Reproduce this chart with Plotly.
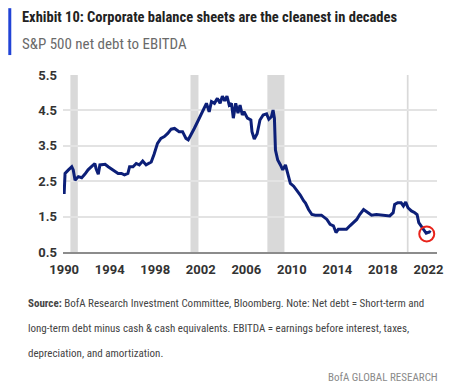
import plotly.graph_objects as go

years = [1990.0, 1990.08, 1990.38, 1990.67, 1990.8, 1990.96, 1991.25, 1991.54, 1991.83, 1992.1,
         1992.4, 1992.7, 1992.8, 1993.0, 1993.14, 1993.6, 1993.87, 1994.3, 1994.74, 1995.03,
         1995.3, 1995.6, 1995.75, 1996.05, 1996.33, 1996.6, 1996.9, 1997.2, 1997.65, 1997.9,
         1998.2, 1998.5, 1998.8, 1999.1, 1999.4, 1999.7, 2000.1, 2000.4, 2000.7, 2000.9,
         2001.14, 2001.43, 2001.72, 2002.0, 2002.3, 2002.5, 2002.74, 2002.94, 2003.2, 2003.46,
         2003.7, 2003.9, 2004.1, 2004.3, 2004.5, 2004.7, 2004.86, 2005.07, 2005.27, 2005.45,
         2005.65, 2005.8, 2006.1, 2006.4, 2006.5, 2006.7, 2006.95, 2007.2, 2007.48, 2007.78,
         2007.98, 2008.2, 2008.35, 2008.47, 2008.56, 2008.76, 2009.0, 2009.2, 2009.44, 2009.63,
         2009.87, 2010.16, 2010.45, 2010.74, 2011.03, 2011.2, 2011.47, 2011.76, 2012.06, 2012.6,
         2013.08, 2013.36, 2013.65, 2013.88, 2014.08, 2014.8, 2015.1, 2015.4, 2015.7, 2015.96,
         2016.3, 2016.7, 2017.0, 2017.43, 2018.0, 2018.6, 2018.9, 2019.03, 2019.3, 2019.6,
         2019.8, 2020.0, 2020.2, 2020.5, 2020.8, 2021.0, 2021.15, 2021.35, 2021.56, 2021.8,
         2022.1, 2022.2]
net_debt_ebitda = [2.14, 2.72, 2.82, 2.91, 2.82, 2.53, 2.63, 2.6, 2.7, 2.82,
                   2.91, 3.0, 2.86, 2.7, 2.96, 2.98, 2.91, 2.82, 2.72, 2.72,
                   2.68, 2.72, 2.91, 2.91, 3.0, 2.96, 3.07, 2.96, 3.04, 3.26,
                   3.57, 3.71, 3.76, 3.85, 3.97, 3.99, 3.9, 3.9, 3.71, 3.67,
                   3.8, 3.99, 4.18, 4.37, 4.56, 4.7, 4.46, 4.75, 4.7, 4.84,
                   4.7, 4.9, 4.77, 4.9, 4.65, 4.7, 4.28, 4.7, 4.42, 4.65,
                   4.37, 4.46, 4.28, 4.23, 3.9, 3.69, 3.84, 4.23, 4.37, 4.4,
                   4.25, 4.32, 4.51, 4.28, 3.38, 3.1, 2.96, 2.82, 2.96, 2.72,
                   2.44, 2.36, 2.25, 2.11, 1.95, 1.88, 1.7, 1.56, 1.54, 1.54,
                   1.42, 1.28, 1.24, 1.05, 1.14, 1.14, 1.24, 1.33, 1.42, 1.56,
                   1.7, 1.61, 1.54, 1.56, 1.54, 1.52, 1.61, 1.84, 1.89, 1.89,
                   1.8, 1.91, 1.75, 1.66, 1.61, 1.56, 1.33, 1.24, 1.14, 1.03,
                   1.07, 1.05]

recession_start = [1990.55, 2001.1, 2007.85, 2020.1]
recession_end = [1991.2, 2001.8, 2009.35, 2020.25]

highlight_year = [2021.85]
highlight_value = [1.01]

x_ticks = [1990, 1994, 1998, 2002, 2006, 2010, 2014, 2018, 2022]
y_ticks = [0.5, 1.5, 2.5, 3.5, 4.5, 5.5]

title = "Exhibit 10: Corporate balance sheets are the cleanest in decades"
subtitle = "S&P 500 net debt to EBITDA"
footer_lines = [
    "<b>Source:</b> BofA Research Investment Committee, Bloomberg. Note: Net debt = Short-term and",
    "long-term debt minus cash & cash equivalents. EBITDA = earnings before interest, taxes,",
    "depreciation, and amortization.",
]
brand = "BofA GLOBAL RESEARCH"

# The page body has an 8px margin, so the figure is drawn 8px smaller and
# every reference pixel position is shifted by that offset.
OFF = 8
W, H = 455 - OFF, 388 - OFF
PLOT_X0, PLOT_X1, PLOT_Y0, PLOT_Y1 = 63 - OFF, 439 - OFF, 75 - OFF, 252.5 - OFF
L, R, T, B = PLOT_X0, W - PLOT_X1, PLOT_Y0, H - PLOT_Y1
PW, PH = PLOT_X1 - PLOT_X0, PLOT_Y1 - PLOT_Y0


def px(x):
    return (x - OFF - L) / PW


def py(y):
    return (PLOT_Y1 - (y - OFF)) / PH


NARROW = "Liberation Sans Narrow, Roboto Condensed, DejaVu Sans Condensed, sans-serif"

fig = go.Figure()
fig.add_trace(go.Scatter(x=years, y=net_debt_ebitda, mode="lines",
                         line=dict(color="#0c1f78", width=3), hoverinfo="skip"))
fig.add_trace(go.Scatter(x=highlight_year, y=highlight_value, mode="markers",
                         marker=dict(size=15, color="rgba(0,0,0,0)",
                                     line=dict(color="#e8231b", width=2)),
                         hoverinfo="skip"))

shapes = []
for s, e in zip(recession_start, recession_end):
    shapes.append(dict(type="rect", xref="x", yref="paper", x0=s, x1=e, y0=0, y1=1,
                       fillcolor="#d9d9d9", line=dict(width=0), layer="below"))
shapes.append(dict(type="rect", xref="paper", yref="paper", x0=px(8), x1=px(11),
                   y0=py(55), y1=py(8), fillcolor="#2143d6", line=dict(width=0)))

annotations = [
    dict(text="<b>" + title + "</b>", x=px(20), y=py(17), xref="paper", yref="paper",
         xanchor="left", yanchor="middle", showarrow=False,
         font=dict(family=NARROW, size=14.5, color="#222222")),
    dict(text=subtitle, x=px(20), y=py(44), xref="paper", yref="paper",
         xanchor="left", yanchor="middle", showarrow=False,
         font=dict(family=NARROW, size=15, color="#6a6a6a")),
]
for i, line in enumerate(footer_lines):
    annotations.append(dict(text=line, x=px(26), y=py(304 + 25 * i), xref="paper", yref="paper",
                            xanchor="left", yanchor="middle", showarrow=False,
                            font=dict(family=NARROW, size=11, color="#444444")))
annotations.append(dict(text=brand, x=px(442), y=py(378), xref="paper", yref="paper",
                        xanchor="right", yanchor="middle", showarrow=False,
                        font=dict(family=NARROW, size=11, color="#8a8a8a")))

fig.update_layout(
    width=W, height=H,
    margin=dict(l=L, r=R, t=T, b=B),
    paper_bgcolor="white", plot_bgcolor="white",
    showlegend=False,
    shapes=shapes, annotations=annotations,
    xaxis=dict(range=[1989.9, 2022.75], tickvals=x_ticks, showgrid=False, zeroline=False,
               showline=True, linecolor="#8c8c8c", linewidth=2, ticks="",
               tickfont=dict(family="Roboto", size=13, color="#333333", weight="bold"),
               ticklabelstandoff=4),
    yaxis=dict(range=[0.5, 5.5], tickvals=y_ticks, tickformat=".1f", showgrid=True,
               gridcolor="#e3e3e3", gridwidth=1.5, zeroline=False, showline=False,
               ticks="", ticklen=0,
               tickfont=dict(family="Roboto", size=13, color="#333333", weight="bold"),
               ticklabelstandoff=5),
)

fig.write_html("out.html")
